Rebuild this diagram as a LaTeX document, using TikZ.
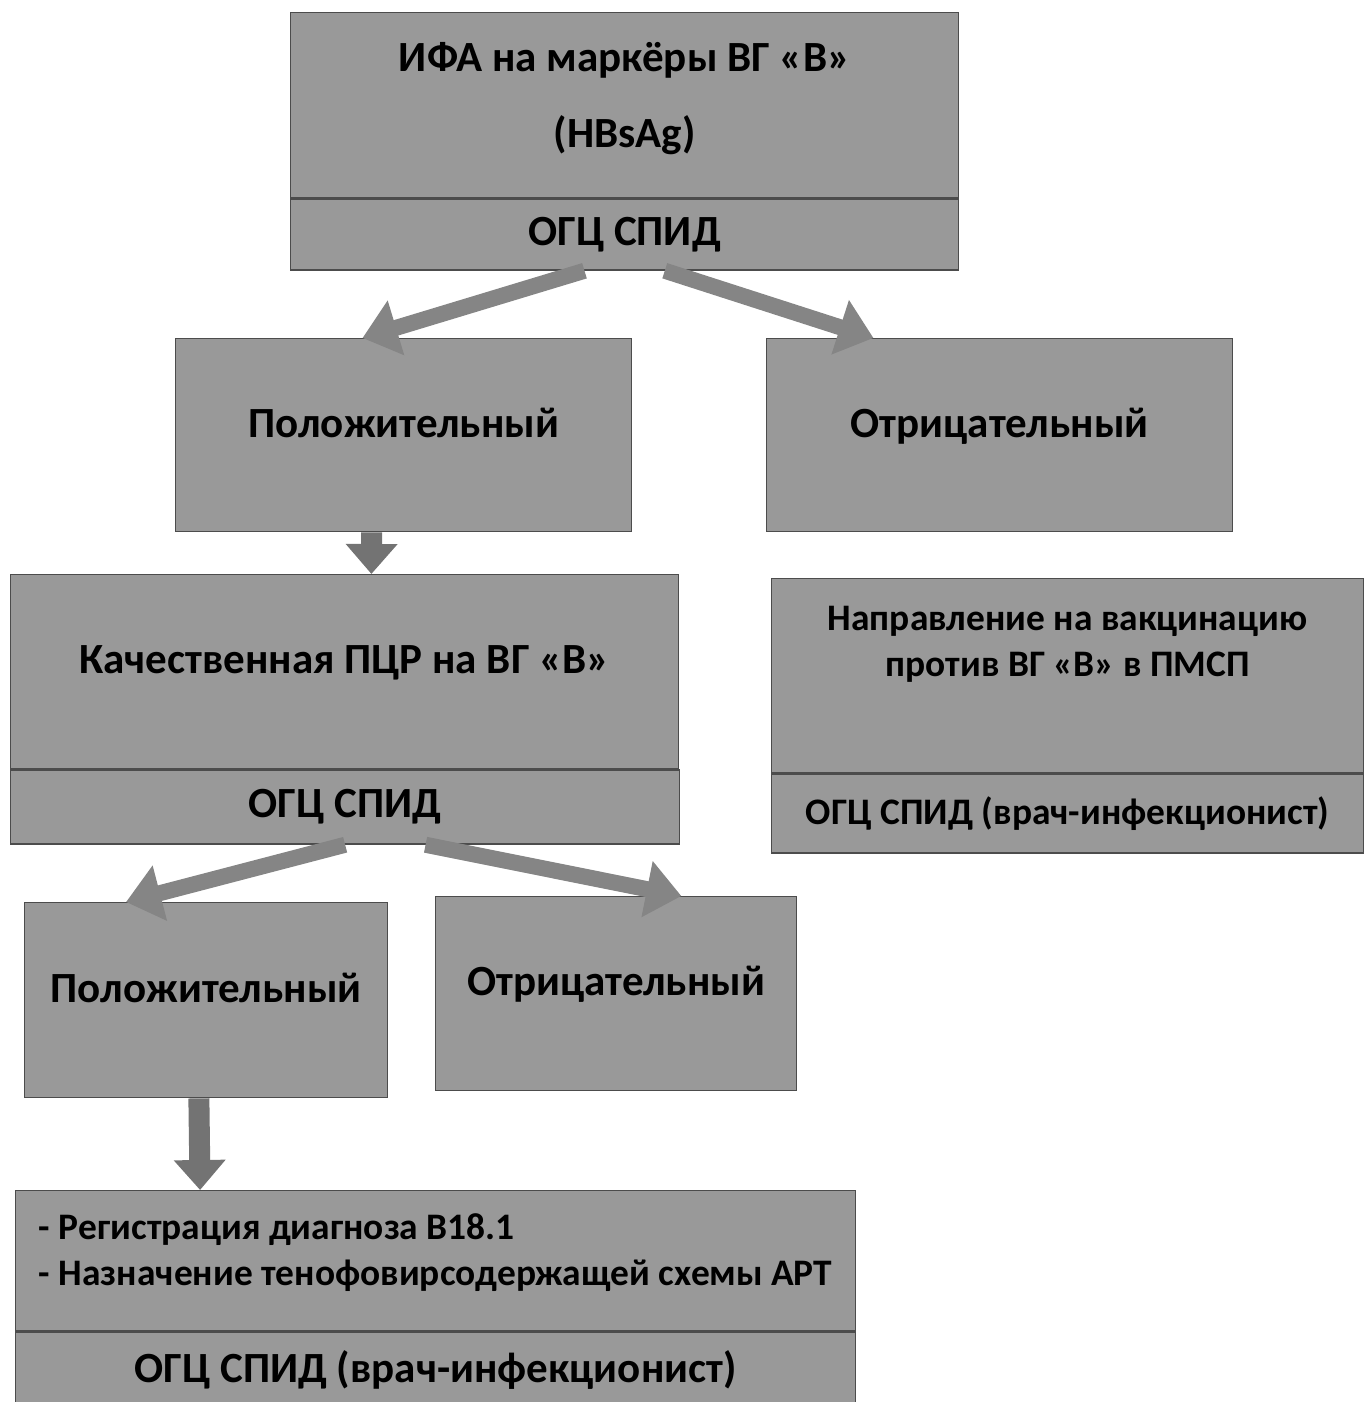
\documentclass[tikz,border=0pt]{standalone}
\usepackage{fontspec}
\setmainfont{Carlito}
\usetikzlibrary{arrows.meta,calc,positioning}
\begin{document}
\begin{tikzpicture}[x=0.02cm, y=-0.02cm,
  box/.style={rectangle, draw=black!70, fill=black!40, line width=0.8pt, anchor=north west,
    inner sep=0pt, align=center, font=\bfseries\fontsize{24.5}{29}\selectfont},
  small/.style={font=\bfseries\fontsize{21.3}{26}\selectfont},
  up/.style={text depth=#1},
  arr/.style={draw=black!48, line width=0.32cm, -{Triangle[width=1.1cm,length=0.7cm]}},
  darr/.style={draw=black!55, line width=0.42cm, -{Triangle[width=1cm,length=0.6cm]}}]

  \useasboundingbox (0,0) rectangle (1366,1402);

  % first test
  \node[box, up=0.42cm, minimum width=13.36cm, minimum height=3.7cm] (ifa) at (290,12)
    {ИФА на маркёры ВГ «В»\\[0.5cm](HBsAg)};
  \node[box, minimum width=13.36cm, minimum height=1.42cm] (ogc1) at (ifa.south west) {ОГЦ СПИД};

  % results of the first test
  \node[box, up=0.5cm, minimum width=9.12cm, minimum height=3.86cm] (pos1) at (175,338) {Положительный};
  \node[box, up=0.5cm, minimum width=9.32cm, minimum height=3.86cm] (neg1) at (766,338) {Отрицательный};

  % pcr
  \node[box, up=0.5cm, minimum width=13.36cm, minimum height=3.88cm] (pcr) at (10,574) {Качественная ПЦР на ВГ «В»};
  \node[box, minimum width=13.38cm, minimum height=1.48cm] (ogc2) at (pcr.south west) {ОГЦ СПИД};

  % vaccination
  \node[box, minimum width=11.84cm, minimum height=3.88cm] (vac) at (771,578) {};
  \node[small, align=center, below=0.45cm of vac.north] (vactxt)
    {Направление на вакцинацию\\против ВГ «В» в ПМСП};
  \node[box, small, minimum width=11.84cm, minimum height=1.58cm] (ogc3) at (vac.south west)
    {ОГЦ СПИД (врач-инфекционист)};

  % results of pcr
  \node[box, up=0.5cm, minimum width=7.26cm, minimum height=3.9cm] (pos2) at (24,902) {Положительный};
  \node[box, up=0.5cm, minimum width=7.22cm, minimum height=3.88cm] (neg2) at (435,896) {Отрицательный};

  % treatment
  \node[box, small, up=0.45cm, align=left, minimum width=16.8cm, minimum height=2.8cm] (art) at (15,1190)
    {- Регистрация диагноза B18.1\\- Назначение тенофовирсодержащей схемы АРТ};
  \node[box, minimum width=16.8cm, minimum height=1.5cm] (ogc4) at (art.south west)
    {ОГЦ СПИД (врач-инфекционист)};

  % arrows
  \draw[arr] ($(ogc1.south west)!0.44!(ogc1.south east)$) -- ($(pos1.north west)!0.41!(pos1.north east)$);
  \draw[arr] ($(ogc1.south west)!0.56!(ogc1.south east)$) -- ($(neg1.north west)!0.23!(neg1.north east)$);
  \draw[darr] ($(pos1.south west)!0.43!(pos1.south east)$) -- ($(pcr.north west)!0.54!(pcr.north east)$);
  \draw[arr] ($(ogc2.south west)!0.5!(ogc2.south east)$) -- ($(pos2.north west)!0.28!(pos2.north east)$);
  \draw[arr] ($(ogc2.south west)!0.62!(ogc2.south east)$) -- ($(neg2.north west)!0.68!(neg2.north east)$);
  \draw[darr] ($(pos2.south west)!0.48!(pos2.south east)$) -- ($(art.north west)!0.22!(art.north east)$);
\end{tikzpicture}
\end{document}
